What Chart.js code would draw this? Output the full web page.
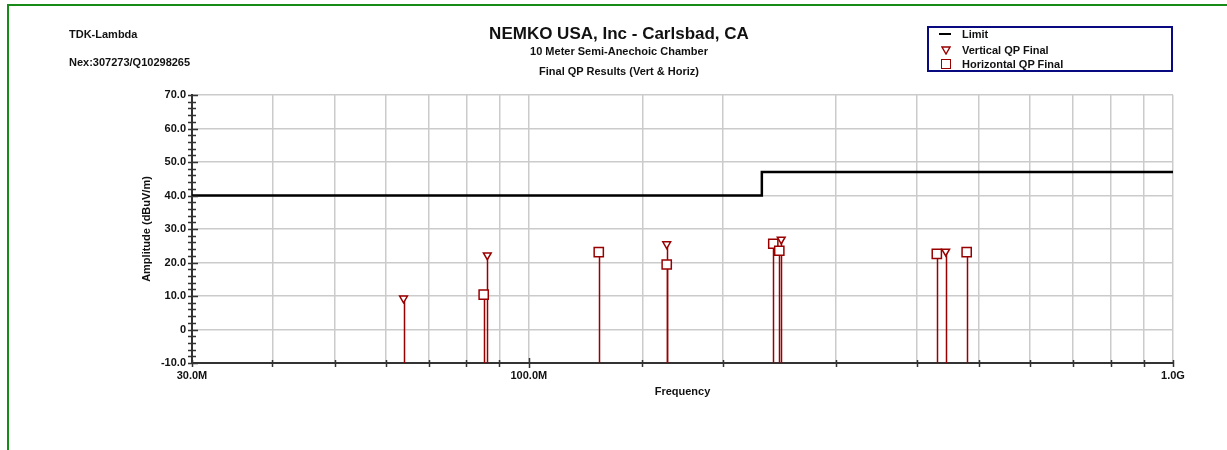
<!DOCTYPE html>
<html lang="en">
<head>
<meta charset="UTF-8" />
<title>Final QP Results (Vert &amp; Horiz)</title>
<style>
  * {
    margin: 0;
    padding: 0;
    font-family: "Liberation Sans", Arial, sans-serif;
  }
  body {
    width: 1227px;
    height: 450px;
    position: relative;
    overflow: hidden;
    background: #fff;
  }
  .frame {
    position: absolute;
    left: 7px;
    top: 4px;
    width: 1240px;
    height: 470px;
    border-left: 2px solid #178a17;
    border-top: 2px solid #178a17;
  }
  .txt {
    position: absolute;
    font-weight: bold;
    font-size: 11px;
    line-height: 11px;
    color: #111;
    white-space: nowrap;
  }
  .center {
    left: 619px;
    transform: translateX(-50%);
  }
  .legend {
    position: absolute;
    left: 927px;
    top: 26px;
    width: 242px;
    height: 42px;
    border: 2px solid #0a0a80;
  }
  .sym {
    position: absolute;
  }
  #chart {
    position: absolute;
    left: 0;
    top: 0;
  }
</style>
</head>
<body>
  <div class="frame"></div>
  <canvas id="chart" width="1227" height="450"></canvas>

  <div class="txt" style="left:69px; top:29px">TDK-Lambda</div>
  <div class="txt" style="left:69px; top:57px">Nex:307273/Q10298265</div>
  <div class="txt center" style="top:25px; font-size:17px; line-height:17px">NEMKO USA, Inc - Carlsbad, CA</div>
  <div class="txt center" style="top:46px">10 Meter Semi-Anechoic Chamber</div>
  <div class="txt center" style="top:66px">Final QP Results (Vert &amp; Horiz)</div>

  <div class="legend"></div>
  <div class="sym" style="left:939px; top:33px; width:12px; height:2px; background:#000"></div>
  <svg class="sym" style="left:941px; top:46px" width="10" height="9">
    <polygon points="1,1 9,1 5,8" fill="#fff" stroke="#990000" stroke-width="1.4" />
  </svg>
  <div class="sym" style="left:941px; top:59px; width:8px; height:8px; border:1.5px solid #990000"></div>
  <div class="txt" id="leg0" style="left:962px; top:29px"></div>
  <div class="txt" id="leg1" style="left:962px; top:45px"></div>
  <div class="txt" id="leg2" style="left:962px; top:59px"></div>

  <script src="https://cdn.jsdelivr.net/npm/chart.js"></script>
  <script>
    // data block (frequency in MHz, level in dBuV/m)
    const limitFreq = [30, 230, 1000];
    const limitLevel = [40, 47, 47];

    const vertFreq = [63.9, 86.2, 163.7, 246.5, 443.7];
    const vertLevel = [9.3, 22.2, 25.5, 26.9, 23.3];

    const horizFreq = [85.1, 128.4, 163.7, 239.6, 244.8, 429.9, 478.3];
    const horizLevel = [10.4, 23.1, 19.4, 25.6, 23.5, 22.6, 23.1];

    const xTickFreq = [30, 100, 1000];
    const xTickText = ["30.0M", "100.0M", "1.0G"];

    const seriesNames = ["Limit", "Vertical QP Final", "Horizontal QP Final"];

    const markColor = "#990000";
    const toPoints = (xs, ys) => xs.map((f, i) => ({ x: f, y: ys[i] }));

    // legend text
    seriesNames.forEach((n, i) => {
      document.getElementById("leg" + i).textContent = n;
    });

    // stems from the bottom axis up to each marker
    const stems = {
      id: "stems",
      beforeDatasetsDraw(chart) {
        const { ctx, chartArea } = chart;
        ctx.save();
        ctx.strokeStyle = markColor;
        ctx.lineWidth = 1.5;
        chart.data.datasets.forEach((ds, i) => {
          if (!ds.stem) return;
          chart.getDatasetMeta(i).data.forEach((pt) => {
            const px = Math.round(pt.x) + 0.5;
            ctx.beginPath();
            ctx.moveTo(px, chartArea.bottom);
            ctx.lineTo(px, pt.y);
            ctx.stroke();
          });
        });
        ctx.restore();
      }
    };

    // small tick marks across both axes
    const axisTicks = {
      id: "axisTicks",
      afterDatasetsDraw(chart) {
        const { ctx, chartArea: a, scales } = chart;
        const { x, y } = scales;
        ctx.save();
        ctx.strokeStyle = "#333";
        ctx.lineWidth = 1.5;
        ctx.beginPath();
        for (let v = y.min; v <= y.max; v += 2) {
          const py = Math.round(y.getPixelForValue(v)) + 0.5;
          const major = v % 10 === 0;
          ctx.moveTo(a.left - 4, py);
          ctx.lineTo(a.left + (major ? 6 : 4), py);
        }
        x.ticks.forEach((t) => {
          const px = Math.round(x.getPixelForValue(t.value)) + 0.5;
          const long = t.value === 100;
          ctx.moveTo(px, a.bottom - (long ? 5 : 3));
          ctx.lineTo(px, a.bottom + (long ? 5 : 4));
        });
        ctx.stroke();
        ctx.restore();
      }
    };

    const tickFont = { family: "'Liberation Sans', Arial, sans-serif", size: 11, weight: "bold" };

    const config = {
      type: "scatter",
      data: {
        datasets: [
          {
            type: "line",
            label: seriesNames[0],
            data: toPoints(limitFreq, limitLevel),
            stepped: true,
            borderColor: "#000",
            borderWidth: 2.5,
            pointRadius: 0,
            fill: false
          },
          {
            label: seriesNames[1],
            data: toPoints(vertFreq, vertLevel),
            stem: true,
            pointStyle: "triangle",
            rotation: 180,
            radius: 4.5,
            borderColor: markColor,
            backgroundColor: "#fff",
            borderWidth: 1.5
          },
          {
            label: seriesNames[2],
            data: toPoints(horizFreq, horizLevel),
            stem: true,
            pointStyle: "rect",
            radius: 6.5,
            borderColor: markColor,
            backgroundColor: "#fff",
            borderWidth: 1.5
          }
        ]
      },
      options: {
        responsive: false,
        animation: false,
        devicePixelRatio: 1,
        layout: { padding: { left: 136, right: 54, top: 95, bottom: 47 } },
        plugins: {
          legend: { display: false },
          tooltip: { enabled: false }
        },
        scales: {
          x: {
            type: "logarithmic",
            min: 30,
            max: 1000,
            afterFit: (s) => { s.height = 40; },
            grid: { color: "#cbcbcb", lineWidth: 1.5, drawTicks: false },
            border: { color: "#333", width: 2 },
            ticks: {
              autoSkip: false,
              maxRotation: 0,
              padding: 6,
              color: "#111",
              font: tickFont,
              callback: (v) => {
                const i = xTickFreq.findIndex((f) => Math.abs(f - v) < 1e-6);
                return i < 0 ? "" : xTickText[i];
              }
            },
            title: {
              display: true,
              text: "Frequency",
              color: "#111",
              font: tickFont,
              padding: { top: 4, bottom: 4 }
            }
          },
          y: {
            min: -10,
            max: 70,
            afterFit: (s) => { s.width = 56; },
            grid: { color: "#cbcbcb", lineWidth: 1.5, drawTicks: false },
            border: { color: "#333", width: 2 },
            ticks: {
              stepSize: 10,
              padding: 6,
              color: "#111",
              font: tickFont,
              callback: (v) => (v === 0 ? "0" : v.toFixed(1))
            },
            title: {
              display: true,
              text: "Amplitude (dBuV/m)",
              color: "#111",
              font: tickFont,
              padding: { top: 4, bottom: 4 }
            }
          }
        }
      },
      plugins: [stems, axisTicks]
    };

    const myChart = new Chart(document.getElementById("chart"), config);
  </script>
</body>
</html>
